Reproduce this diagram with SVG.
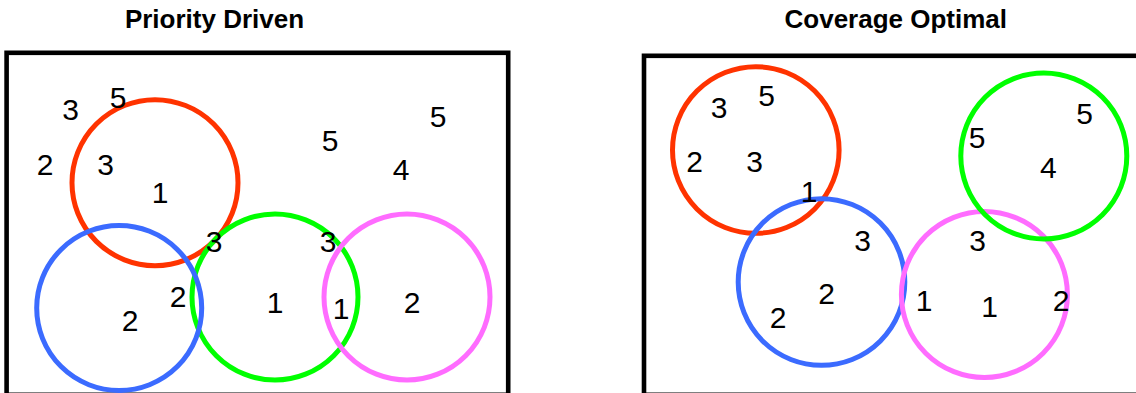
<svg xmlns="http://www.w3.org/2000/svg" width="1136" height="393" viewBox="0 0 1136 393">
<style>
.title{font-family:"Liberation Sans",Arial,sans-serif;font-weight:bold;font-size:26px;fill:#000;text-anchor:middle}
.num{font-family:"Liberation Sans",Arial,sans-serif;font-size:30px;fill:#000;text-anchor:middle}
.frame{fill:#fff;stroke:#000;stroke-width:4.6}
.c{fill:none;stroke-width:5}
.red{stroke:#ff3300}
.blue{stroke:#3b6bff}
.green{stroke:#00ff00}
.pink{stroke:#ff6cff}
</style>
<rect width="1136" height="393" fill="#fff"/>
<g id="priority-driven">
  <text class="title" x="214.5" y="28.3">Priority Driven</text>
  <rect class="frame" x="6.6" y="52.8" width="501.6" height="342"/>
  <g id="pd-red"><circle class="c red" cx="155" cy="182.7" r="83"/></g>
  <g id="pd-green"><circle class="c green" cx="275" cy="297" r="83"/></g>
  <g id="pd-pink"><circle class="c pink" cx="407" cy="297" r="83"/></g>
  <g id="pd-blue"><circle class="c blue" cx="119.2" cy="308" r="82.5"/></g>
  <g id="pd-numbers">
    <text class="num" x="70.5" y="120">3</text>
    <text class="num" x="118" y="108">5</text>
    <text class="num" x="45" y="175">2</text>
    <text class="num" x="105.5" y="175">3</text>
    <text class="num" x="160" y="203">1</text>
    <text class="num" x="330" y="151">5</text>
    <text class="num" x="438" y="127">5</text>
    <text class="num" x="401" y="180">4</text>
    <text class="num" x="214" y="252">3</text>
    <text class="num" x="328" y="252">3</text>
    <text class="num" x="275" y="313">1</text>
    <text class="num" x="341" y="319">1</text>
    <text class="num" x="412" y="313">2</text>
    <text class="num" x="178" y="307">2</text>
    <text class="num" x="130" y="331">2</text>
  </g>
</g>
<g id="coverage-optimal">
  <text class="title" x="895.8" y="28.3">Coverage Optimal</text>
  <rect class="frame" x="644" y="55.8" width="500" height="339"/>
  <g id="co-red"><circle class="c red" cx="755.8" cy="150" r="83.3"/></g>
  <g id="co-blue"><circle class="c blue" cx="821.5" cy="282" r="83.3"/></g>
  <g id="co-pink"><circle class="c pink" cx="984.4" cy="294.5" r="83"/></g>
  <g id="co-green"><circle class="c green" cx="1043.8" cy="156" r="83"/></g>
  <g id="co-numbers">
    <text class="num" x="719" y="118">3</text>
    <text class="num" x="766.5" y="106">5</text>
    <text class="num" x="694.5" y="172">2</text>
    <text class="num" x="754.5" y="172">3</text>
    <text class="num" x="809" y="202">1</text>
    <text class="num" x="862.5" y="250.5">3</text>
    <text class="num" x="826.7" y="304">2</text>
    <text class="num" x="778" y="328">2</text>
    <text class="num" x="924" y="310.5">1</text>
    <text class="num" x="977.5" y="250.5">3</text>
    <text class="num" x="989.5" y="316.5">1</text>
    <text class="num" x="1061" y="310.5">2</text>
    <text class="num" x="1084.7" y="124">5</text>
    <text class="num" x="977" y="148">5</text>
    <text class="num" x="1048.3" y="178">4</text>
  </g>
</g>
</svg>
